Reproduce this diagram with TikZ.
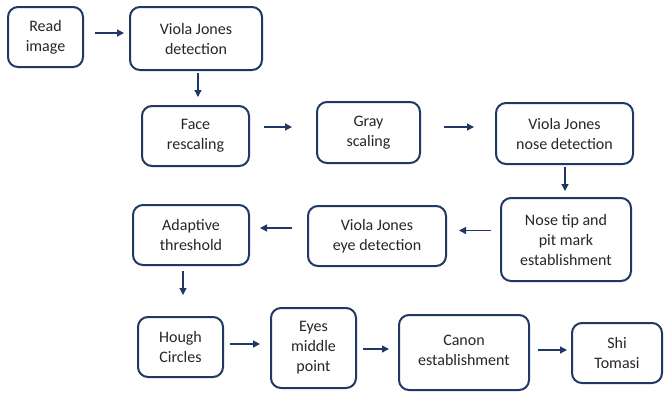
\documentclass[tikz,border=0pt]{standalone}
\usepackage{fontspec}
\setmainfont{Carlito}
\usetikzlibrary{arrows.meta}
\definecolor{navy}{HTML}{1F3864}
\definecolor{txt}{HTML}{262626}
\begin{document}
\begin{tikzpicture}[x=1pt,y=1pt,
  box/.style={draw=navy, line width=2pt, rounded corners=10pt, fill=white,
    inner sep=0pt, align=center, text=txt,
    font=\fontsize{16}{20}\selectfont},
  arr/.style={draw=navy, line width=1.3pt, -{Triangle[length=7pt,width=7pt]}}]
\useasboundingbox (0,0) rectangle (664,-392);
% nodes
\node[box, minimum width=75pt, minimum height=60pt] (read) at (45.5,-37) {Read\\image};
\node[box, minimum width=132pt, minimum height=63pt] (vj) at (196,-38.5) {Viola Jones\\detection};
\node[box, minimum width=107pt, minimum height=60pt] (face) at (195.5,-136) {Face\\rescaling};
\node[box, minimum width=103pt, minimum height=61pt] (gray) at (368.5,-132.5) {Gray\\scaling};
\node[box, minimum width=137pt, minimum height=61pt] (nose) at (564.5,-133.5) {Viola Jones\\nose detection};
\node[box, minimum width=130pt, minimum height=83pt] (tip) at (566,-239.5) {Nose tip and\\pit mark\\establishment};
\node[box, minimum width=138pt, minimum height=60pt] (eye) at (377,-236) {Viola Jones\\eye detection};
\node[box, minimum width=116pt, minimum height=60pt] (adapt) at (191,-235) {Adaptive\\threshold};
\node[box, minimum width=85pt, minimum height=60pt] (hough) at (180.5,-347) {Hough\\Circles};
\node[box, minimum width=85pt, minimum height=80pt] (eyes) at (313.5,-348) {Eyes\\middle\\point};
\node[box, minimum width=130pt, minimum height=75pt, text depth=4pt] (canon) at (464,-352.5) {Canon\\establishment};
\node[box, minimum width=90pt, minimum height=60pt] (shi) at (617,-353) {Shi\\Tomasi};
% connectors
\draw[arr, shorten <=11pt, shorten >=5pt] ([yshift=4]read.east) -- ([yshift=4]read.east -| vj.west);
\draw[arr, shorten <=2pt, shorten >=8pt] ([xshift=2]vj.south) -- ([xshift=2]vj.south |- face.north);
\draw[arr, shorten <=14pt, shorten >=24pt] ([yshift=9]face.east) -- ([yshift=9]face.east -| gray.west);
\draw[arr, shorten <=23pt, shorten >=21pt] ([yshift=5.5]gray.east) -- ([yshift=5.5]gray.east -| nose.west);
\draw[arr, shorten <=2pt, shorten >=6pt] ([xshift=0.5]nose.south) -- ([xshift=0.5]nose.south |- tip.north);
\draw[arr, shorten <=9pt, shorten >=12pt] ([yshift=9]tip.west) -- ([yshift=9]tip.west -| eye.east);
\draw[arr, shorten <=15pt, shorten >=10pt] ([yshift=8]eye.west) -- ([yshift=8]eye.west -| adapt.east);
\draw[arr, shorten <=5pt, shorten >=21pt] ([xshift=-8]adapt.south) -- ([xshift=-8]adapt.south |- hough.north);
\draw[arr, shorten <=6pt, shorten >=10pt] ([yshift=3]hough.east) -- ([yshift=3]hough.east -| eyes.west);
\draw[arr, shorten <=6pt, shorten >=9pt] ([yshift=-1]eyes.east) -- ([yshift=-1]eyes.east -| canon.west);
\draw[arr, shorten <=8pt, shorten >=4pt] ([yshift=2.5]canon.east) -- ([yshift=2.5]canon.east -| shi.west);
\end{tikzpicture}
\end{document}
